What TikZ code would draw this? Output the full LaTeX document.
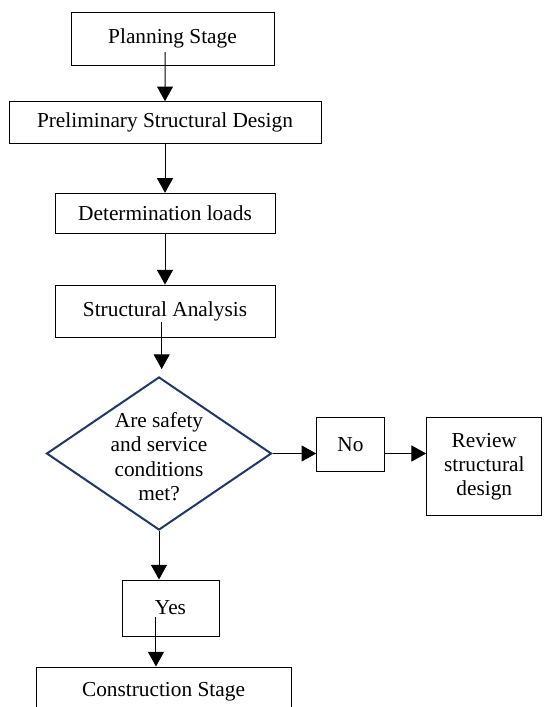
\documentclass[tikz,border=0pt]{standalone}
\usepackage{fontspec}
\setmainfont{Liberation Serif}
\usetikzlibrary{arrows.meta,shapes.geometric}
\definecolor{navy}{RGB}{31,56,100}
\tikzset{
  stage/.style={draw,line width=0.75pt,inner sep=0pt,align=center,font=\fontsize{16}{18.2}\selectfont},
  decision/.style={draw=navy,diamond,line width=1.5pt,inner sep=0pt},
  qtext/.style={align=center,inner sep=0pt,font=\fontsize{16}{18.2}\selectfont},
  flow/.style={-{Triangle[length=11pt,width=12pt]},line width=0.75pt}
}
\begin{document}
\begin{tikzpicture}[x=0.75pt,y=-0.75pt]
  \useasboundingbox (0,0) rectangle (543,707);
  \node[stage,minimum width=152.25pt,minimum height=39.5pt] (plan) at (172.5,38.7) {Planning Stage};
  \node[stage,minimum width=234pt,minimum height=31.2pt] (prelim) at (165,122.5) {Preliminary Structural Design};
  \node[stage,minimum width=165pt,minimum height=30pt] (detload) at (165,213.3) {Determination loads};
  \node[stage,minimum width=165pt,minimum height=39.2pt] (analysis) at (165,311.2) {Structural Analysis};
  \node[decision,minimum width=168.75pt,minimum height=114.75pt] (check) at (159,453.5) {};
  \node[qtext] (checktext) at (159,456.5) {Are safety\\and service\\conditions\\met?};
  \node[stage,minimum width=50.7pt,minimum height=40.3pt] (no) at (350.5,444.2) {No};
  \node[stage,minimum width=86.5pt,minimum height=74pt] (review) at (484.3,466.5) {Review\\structural\\design};
  \node[stage,minimum width=72.75pt,minimum height=42pt] (yes) at (170.5,608) {Yes};
  \node[stage,minimum width=191.25pt,minimum height=37.5pt] (build) at (163.5,692) {Construction Stage};

  \draw[flow] ([xshift=-5.6pt,yshift=-10pt]plan.center) -- (prelim.north);
  \draw[flow] (prelim.south) -- (detload.north);
  \draw[flow] (detload.south) -- (analysis.north);
  \draw[flow] ([xshift=-2.5pt,yshift=-7.9pt]analysis.center) -- ([xshift=2pt,yshift=5.2pt]check.north);
  \draw[flow] (check.east) -- (check.east -| no.west);
  \draw[flow] (check.east -| no.east) -- (check.east -| review.west);
  \draw[flow] (check.south) -- (check.south |- yes.north);
  \draw[flow] ([xshift=-10.9pt,yshift=-6.8pt]yes.center) coordinate (yesout) -- (yesout |- build.north);
\end{tikzpicture}
\end{document}
